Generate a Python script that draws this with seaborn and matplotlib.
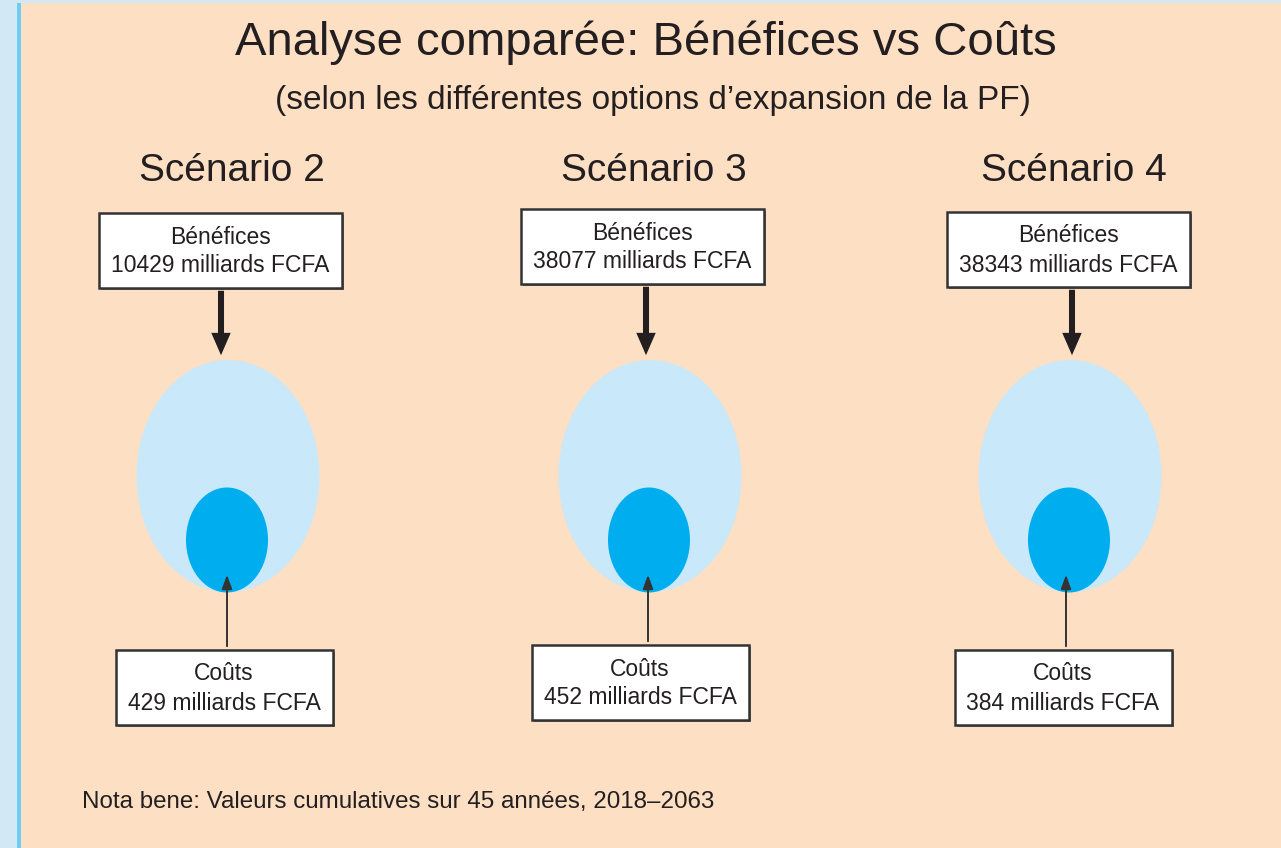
import matplotlib
matplotlib.use("Agg")
import matplotlib.pyplot as plt
from matplotlib.patches import Ellipse, Rectangle, FancyArrowPatch
import seaborn as sns

# Données du schéma
scenarios = ['Scénario 2', 'Scénario 3', 'Scénario 4']
benefices = [10429, 38077, 38343]
couts = [429, 452, 384]
unite = 'milliards FCFA'

titre = 'Analyse comparée: Bénéfices vs Coûts'
sous_titre = '(selon les différentes options d\u2019expansion de la PF)'
note = 'Nota bene: Valeurs cumulatives sur 45 années, 2018\u20132063'

# mise en page (coordonnées en pixels de l'image)
col_x = [228, 650, 1070]
ben_box_x = [220, 642, 1068]
ben_box_y = [250, 246, 249]
cout_box_x = [224, 640, 1063]
cout_box_y = [687, 682, 687]
fleche_ben_x = [221, 646, 1072]
fleche_cout_x = [227, 648, 1066]

PEACH = '#FDDFC4'
LIGHT_BLUE = '#C9E8F9'
DARK_BLUE = '#00AEEF'
INK = '#231F20'

sns.set_theme(style='white')
plt.rcParams['font.family'] = ['Liberation Sans', 'DejaVu Sans']

fig = plt.figure(figsize=(12.81, 8.48), dpi=100, facecolor='#D3E8F5')
ax = fig.add_axes([0, 0, 1, 1])
ax.set_xlim(0, 1281)
ax.set_ylim(848, 0)
ax.axis('off')

# fond
ax.add_patch(Rectangle((20, 3), 1261, 845, facecolor=PEACH, edgecolor='none'))
ax.add_patch(Rectangle((17, 3), 4, 845, facecolor='#6DCDF5', edgecolor='none'))

ax.text(646, 43, titre, ha='center', va='center', fontsize=34, color=INK)
ax.text(653, 101, sous_titre, ha='center', va='center', fontsize=24, color=INK)


def boite(cx, cy, w, h, l1, l2):
    ax.add_patch(Rectangle((cx - w / 2 + 2, cy - h / 2 + 2), w, h, facecolor='#777777',
                           edgecolor='none', zorder=3))
    ax.add_patch(Rectangle((cx - w / 2, cy - h / 2), w, h, facecolor='white',
                           edgecolor='#333333', linewidth=1.8, zorder=4))
    ax.text(cx, cy - 13, l1, ha='center', va='center', fontsize=16.5, color=INK, zorder=5)
    ax.text(cx, cy + 16, l2, ha='center', va='center', fontsize=16.5, color=INK, zorder=5)


for i, sc in enumerate(scenarios):
    x = col_x[i]
    ax.text(x + 4, 171, sc, ha='center', va='center', fontsize=28, color=INK)

    # ellipses bénéfices / coûts
    ax.add_patch(Ellipse((x, 476), 183, 232, facecolor=LIGHT_BLUE, edgecolor='none', zorder=1))
    ax.add_patch(Ellipse((x - 1, 540), 82, 105, facecolor=DARK_BLUE, edgecolor='none', zorder=2))

    boite(ben_box_x[i], ben_box_y[i], 243, 75, 'Bénéfices',
          f'{benefices[i]} {unite}')
    boite(cout_box_x[i], cout_box_y[i], 217, 75, 'Coûts',
          f'{couts[i]} {unite}')

    # flèche épaisse vers le haut de l'ellipse
    fx = fleche_ben_x[i]
    ax.add_patch(FancyArrowPatch((fx, ben_box_y[i] + 38), (fx, 358),
                                 arrowstyle='simple,head_width=1.0,head_length=1.15,tail_width=0.31',
                                 mutation_scale=14, facecolor=INK, edgecolor='none', zorder=6))
    # flèche fine depuis la boîte des coûts
    fx = fleche_cout_x[i]
    ax.add_patch(FancyArrowPatch((fx, cout_box_y[i] - 38), (fx, 572),
                                 arrowstyle='-|>,head_width=0.22,head_length=0.6',
                                 mutation_scale=14, color='#333333', linewidth=1.4, zorder=6))

ax.text(82, 802, note, ha='left', va='center', fontsize=17.4, color=INK)

fig.savefig('out.png', dpi=100, facecolor=fig.get_facecolor())
